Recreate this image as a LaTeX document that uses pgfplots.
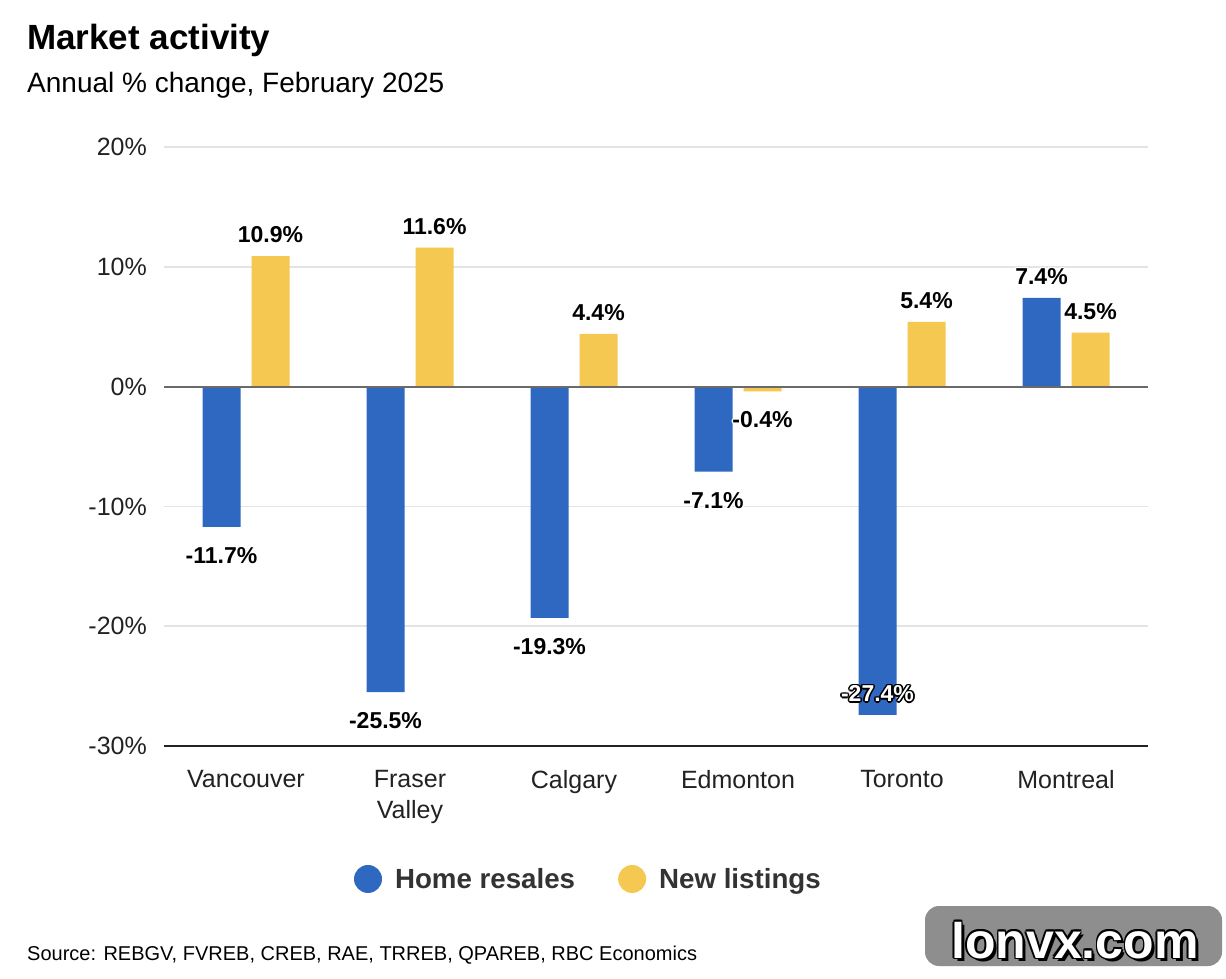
\documentclass[border=0pt]{standalone}
\usepackage{pgfplots}
\pgfplotsset{compat=1.18}
\usepackage{pgfplotstable}
\usepackage{fontspec}
\setmainfont{Liberation Sans}

\definecolor{resblue}{HTML}{2E68C0}
\definecolor{newyellow}{HTML}{F5C851}
\definecolor{gridgray}{HTML}{E4E4E4}
\definecolor{zerogray}{HTML}{6A6A6A}
\definecolor{basedark}{HTML}{222222}
\definecolor{legtext}{HTML}{333333}
\definecolor{markgray}{HTML}{8E8E8E}

% text with an outline: #1 outline colour, #2 text colour, #3 outline radius, #4 text
\newlength{\hlen}
\newlength{\hdiag}
\newcommand{\halo}[4]{{%
  \setlength{\hlen}{#3}\setlength{\hdiag}{0.7\hlen}%
  \def\hc##1##2{\rlap{\kern##1\raisebox{##2}{\textcolor{#1}{#4}}}}%
  \hc{-\hlen}{0pt}\hc{\hlen}{0pt}\hc{0pt}{\hlen}\hc{0pt}{-\hlen}%
  \hc{\hdiag}{\hdiag}\hc{-\hdiag}{\hdiag}\hc{\hdiag}{-\hdiag}\hc{-\hdiag}{-\hdiag}%
  \textcolor{#2}{#4}}}

\newcommand{\pct}[1]{\pgfmathprintnumber[fixed,fixed zerofill,precision=1,assume math mode=true]{#1}\%}

% x: category index, y: annual % change
\pgfplotstableread{
x y
0 -11.7
1 -25.5
2 -19.3
3 -7.1
4 -27.4
5 7.4
}\resales

\pgfplotstableread{
x y
0 10.9
1 11.6
2 4.4
3 -0.4
4 5.4
5 4.5
}\listings

\pgfplotsset{
  barlabel/.style={forget plot, draw=none, fill=none, point meta=y,
    every node near coord/.append style={inner sep=0pt,
      font=\fontsize{23}{28}\selectfont\bfseries}},
  plainlabel/.style={barlabel,
    nodes near coords={\halo{white}{black}{1.6pt}{\pct{\pgfplotspointmeta}}}},
  darklabel/.style={barlabel,
    nodes near coords={\halo{black}{white}{1.6pt}{\pct{\pgfplotspointmeta}}}},
}

\begin{document}
\begin{tikzpicture}[x=1pt,y=1pt]
\useasboundingbox[fill=white] (0,0) rectangle (1226,978);

% titles
\node[anchor=base west, inner sep=0pt] at (27,928)
  {\fontsize{35}{42}\selectfont\bfseries Market activity};
\node[anchor=base west, inner sep=0pt] at (27,885)
  {\fontsize{28}{34}\selectfont Annual \% change, February 2025};

\begin{axis}[
  at={(164pt,232pt)}, anchor=south west,
  scale only axis, width=984pt, height=599pt,
  clip=false,
  xmin=-0.5, xmax=5.5, ymin=-30, ymax=20,
  ybar, bar width=38pt,
  axis line style={draw=none},
  major tick length=0pt,
  tick style={draw=none},
  xtick={0,1,2,3,4,5},
  xticklabels={Vancouver,{Fraser\\Valley},Calgary,Edmonton,Toronto,Montreal},
  xticklabel style={anchor=north, inner sep=0pt, yshift=-24pt, align=center,
    font=\fontsize{25}{31}\selectfont, text=basedark},
  ytick={-30,-20,-10,0,10,20},
  yticklabels={-30\%,-20\%,-10\%,0\%,10\%,20\%},
  yticklabel style={anchor=east, inner sep=0pt, xshift=-17pt,
    font=\fontsize{25}{30}\selectfont, text=basedark},
  ymajorgrids,
  major grid style={color=gridgray, line width=1.5pt},
  legend columns=2,
  legend cell align=left,
  legend style={at={(0.1931,-0.222)}, anchor=west, draw=none, fill=none,
    inner sep=0pt, outer sep=0pt,
    nodes={inner sep=0pt, text=legtext},
    font=\fontsize{27.7}{32}\selectfont\bfseries,
    /tikz/every odd column/.append style={column sep=13pt},
    /tikz/every even column/.append style={column sep=43pt}},
]
\addplot[fill=resblue, draw=none, bar shift=-24.5pt,
  legend image code/.code={\fill[resblue] (14pt,0pt) circle (14pt);}]
  table[x=x, y=y] {\resales};
\addlegendentry{Home resales}
\addplot[fill=newyellow, draw=none, bar shift=24.5pt,
  legend image code/.code={\fill[newyellow] (14pt,0pt) circle (14pt);}]
  table[x=x, y=y] {\listings};
\addlegendentry{New listings}

% value labels: above positive bars, below negative ones
\addplot[plainlabel, bar shift=-24.5pt, restrict y to domain=0:50,
  every node near coord/.append style={yshift=11pt}]
  table[x=x, y=y] {\resales};
\addplot[plainlabel, bar shift=-24.5pt, restrict y to domain=-27:0,
  every node near coord/.append style={yshift=-18.6pt}]
  table[x=x, y=y] {\resales};
\addplot[darklabel, bar shift=-24.5pt, restrict y to domain=-28:-27,
  every node near coord/.append style={yshift=30.9pt}]
  table[x=x, y=y] {\resales};
\addplot[plainlabel, bar shift=24.5pt, restrict y to domain=0:50,
  every node near coord/.append style={yshift=11pt}]
  table[x=x, y=y] {\listings};
\addplot[plainlabel, bar shift=24.5pt, restrict y to domain=-50:0,
  every node near coord/.append style={yshift=-18.6pt}]
  table[x=x, y=y] {\listings};

% zero line and baseline
\draw[zerogray, line width=2pt] (rel axis cs:0,0.6) -- (rel axis cs:1,0.6);
\draw[basedark, line width=2pt] (rel axis cs:0,0) -- (rel axis cs:1,0);
\end{axis}

% source note
\node[anchor=base west, inner sep=0pt] at (27,18)
  {\fontsize{20}{24}\selectfont Source: REBGV, FVREB, CREB, RAE, TRREB, QPAREB, RBC Economics};

% site mark
\fill[markgray, rounded corners=14pt] (925,12) rectangle (1222,72);
\node[anchor=base west, inner sep=0pt] at (951,20)
  {\fontsize{50}{60}\selectfont\bfseries
   \rlap{\kern3pt\raisebox{-3pt}{\textcolor{black}{lonvx.com}}}%
   \halo{black}{white}{1.5pt}{lonvx.com}};
\end{tikzpicture}
\end{document}
